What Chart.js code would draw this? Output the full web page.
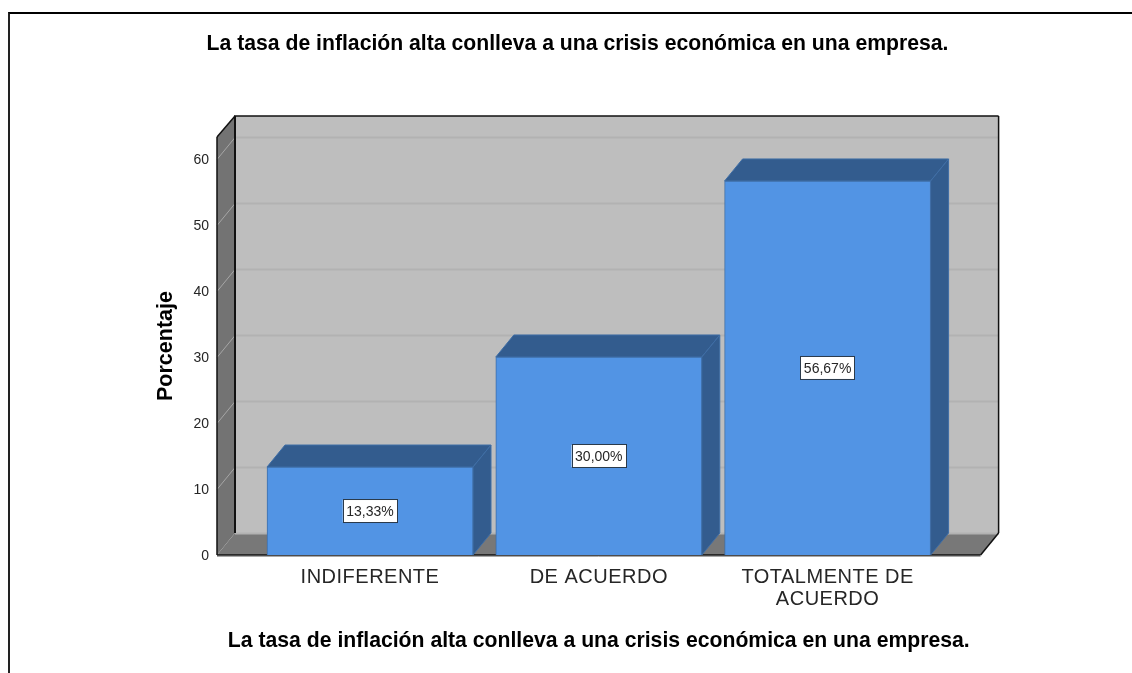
<!DOCTYPE html>
<html>
<head>
<meta charset="utf-8">
<script src="https://cdn.jsdelivr.net/npm/chart.js@4"></script>
<style>
    html, body { margin: 0; padding: 0; background: #fff; overflow: hidden; }
    #frame { position: absolute; left: 8px; top: 12px; width: 1124px; height: 661px; border-top: 2px solid #000; border-left: 2px solid #222; box-sizing: border-box; }
    #chart { position: absolute; left: 0; top: 0; }
</style>
</head>
<body>
<div id="frame"></div>
<canvas id="chart" width="1132" height="673"></canvas>
<script>
// Values
const categories = ['INDIFERENTE', 'DE ACUERDO', ['TOTALMENTE DE', 'ACUERDO']];
const percentages = [13.33, 30.00, 56.67];
const yTickValues = [0, 10, 20, 30, 40, 50, 60];
const yMax = 63.33;
const chartTitle = 'La tasa de inflación alta conlleva a una crisis económica en una empresa.';
const xAxisTitle = 'La tasa de inflación alta conlleva a una crisis económica en una empresa.';
const yAxisTitle = 'Porcentaje';

const COLORS = {
    bar: '#5294e4',
    barEdge: '#3f6ea6',
    barDark: '#335c8e',
    wall: '#bebebe',
    sideWall: '#737373',
    floor: '#787878',
    gridBack: '#b2b2b2',
    gridSide: '#a6a6a6',
    outline: '#111111',
    text: '#262626'
};

// 3D box look: how far the back plane sits from the front plane
const DEPTH_X = 18;
const DEPTH_Y = 22;
const SIDE_GAP = 38.6; // floor showing left/right of the category bands
const TITLE_OVERHANG = 60; // x title is wider than the plot, chart.js would squeeze it

function polygon(ctx, points, fill, stroke, lineWidth) {
    ctx.beginPath();
    points.forEach((p, i) => i ? ctx.lineTo(p[0], p[1]) : ctx.moveTo(p[0], p[1]));
    ctx.closePath();
    if (fill) {
        ctx.fillStyle = fill;
        ctx.fill();
    }
    if (stroke) {
        ctx.strokeStyle = stroke;
        ctx.lineWidth = lineWidth || 1;
        ctx.stroke();
    }
}

function line(ctx, x1, y1, x2, y2, color, width) {
    ctx.beginPath();
    ctx.moveTo(x1, y1);
    ctx.lineTo(x2, y2);
    ctx.strokeStyle = color;
    ctx.lineWidth = width;
    ctx.stroke();
}

/**
 * Draws walls, floor and grid behind the bars
 */
const boxPlugin = {
    id: 'box3d',
    beforeDraw(chart) {
        // the top title is centred a bit left of the plot in the reference
        chart.titleBlock.left = 150;
        chart.titleBlock.right = 1005;
    },
    beforeDatasetsDraw(chart) {
        const ctx = chart.ctx;
        const area = chart.chartArea;
        const yScale = chart.scales.y;
        const left = area.left - SIDE_GAP;
        const right = area.right + SIDE_GAP;
        const top = area.top;
        const bottom = area.bottom;
        const backTop = top - DEPTH_Y + 1;

        ctx.save();
        polygon(ctx, [[left + DEPTH_X, backTop], [right + DEPTH_X, backTop], [right + DEPTH_X, bottom - DEPTH_Y], [left + DEPTH_X, bottom - DEPTH_Y]], COLORS.wall);
        polygon(ctx, [[left, top], [left + DEPTH_X, backTop], [left + DEPTH_X, bottom - DEPTH_Y], [left, bottom]], COLORS.sideWall);
        polygon(ctx, [[left, bottom], [left + DEPTH_X, bottom - DEPTH_Y], [right + DEPTH_X, bottom - DEPTH_Y], [right, bottom]], COLORS.floor);

        yTickValues.forEach(v => {
            const y = Math.round(yScale.getPixelForValue(v)) + 0.5;
            if (v > 0) line(ctx, left, y, left + DEPTH_X, y - DEPTH_Y, COLORS.gridSide, 1);
            line(ctx, left + DEPTH_X, y - DEPTH_Y, right + DEPTH_X, y - DEPTH_Y, COLORS.gridBack, 2);
        });

        // outlines of the box
        line(ctx, left + DEPTH_X - 1, backTop, right + DEPTH_X, backTop, COLORS.outline, 1.5);
        line(ctx, left + DEPTH_X, backTop, left + DEPTH_X, bottom - DEPTH_Y, COLORS.outline, 2);
        line(ctx, right + DEPTH_X, backTop, right + DEPTH_X, bottom - DEPTH_Y, COLORS.outline, 1.5);
        line(ctx, left, top, left + DEPTH_X, backTop, COLORS.outline, 1.5);
        line(ctx, left, top, left, bottom, COLORS.outline, 1.5);
        line(ctx, left, bottom, right, bottom, COLORS.outline, 1.5);
        line(ctx, right, bottom, right + DEPTH_X, bottom - DEPTH_Y, COLORS.outline, 1.5);
        line(ctx, left, bottom + 1.5, right, bottom + 1.5, '#a8a8a8', 1);

        // top and side faces of the bars
        chart.getDatasetMeta(0).data.forEach(bar => {
            const x1 = bar.x - bar.width / 2;
            const x2 = bar.x + bar.width / 2;
            polygon(ctx, [[x1, bar.y], [x1 + DEPTH_X, bar.y - DEPTH_Y], [x2 + DEPTH_X, bar.y - DEPTH_Y], [x2, bar.y]], COLORS.barDark, COLORS.barEdge, 1);
            polygon(ctx, [[x2, bar.y], [x2 + DEPTH_X, bar.y - DEPTH_Y], [x2 + DEPTH_X, bar.base - DEPTH_Y], [x2, bar.base]], COLORS.barDark, COLORS.barEdge, 1);
        });
        ctx.restore();
    },
    afterDatasetsDraw(chart) {
        const ctx = chart.ctx;
        ctx.save();
        ctx.font = '14px "Liberation Sans"';
        ctx.textAlign = 'center';
        ctx.textBaseline = 'middle';
        chart.getDatasetMeta(0).data.forEach((bar, i) => {
            const label = percentages[i].toFixed(2).replace('.', ',') + '%';
            const cx = bar.x;
            const cy = (bar.y + bar.base) / 2;
            const w = ctx.measureText(label).width + 7;
            ctx.fillStyle = '#ffffff';
            ctx.fillRect(cx - w / 2, cy - 11, w, 22);
            ctx.strokeStyle = '#2b3a4a';
            ctx.lineWidth = 1;
            ctx.strokeRect(Math.round(cx - w / 2) + 0.5, cy - 11.5, Math.round(w), 23);
            ctx.fillStyle = COLORS.text;
            ctx.fillText(label, cx, cy + 1);
        });
        ctx.restore();
    }
};

const chart = new Chart(document.getElementById('chart').getContext('2d'), {
    type: 'bar',
    data: {
        labels: categories,
        datasets: [{
            data: percentages,
            backgroundColor: COLORS.bar,
            borderColor: COLORS.barEdge,
            borderWidth: 1,
            barThickness: 206
        }]
    },
    plugins: [boxPlugin],
    options: {
        responsive: false,
        animation: false,
        layout: {
            padding: { left: 153.6, right: 190, top: 31, bottom: 19 }
        },
        plugins: {
            legend: { display: false },
            tooltip: { enabled: false },
            title: {
                display: true,
                text: chartTitle,
                color: '#000',
                font: { family: '"Liberation Sans"', size: 21.2, weight: 'bold', lineHeight: 1.2 },
                padding: { top: 0, bottom: 80.56 }
            }
        },
        scales: {
            y: {
                min: 0,
                max: yMax,
                afterFit: scale => { scale.width = 102; },
                afterBuildTicks: scale => { scale.ticks = yTickValues.map(v => ({ value: v })); },
                grid: { display: false },
                border: { display: false },
                ticks: {
                    autoSkip: false,
                    padding: 38.6,
                    labelOffset: 1.5,
                    color: COLORS.text,
                    font: { family: '"Liberation Sans"', size: 14 }
                },
                title: {
                    display: true,
                    text: yAxisTitle,
                    color: '#000',
                    font: { family: '"Liberation Sans"', size: 21.5, weight: 'bold' },
                    padding: 0
                }
            },
            x: {
                afterFit: scale => { scale.height = 99; },
                grid: { display: false },
                border: { display: false },
                ticks: {
                    autoSkip: false,
                    maxRotation: 0,
                    padding: 3,
                    color: COLORS.text,
                    font: { family: '"Liberation Sans"', size: 20, lineHeight: 1.1 }
                },
                title: {
                    display: true,
                    text: xAxisTitle,
                    color: '#000',
                    font: { family: '"Liberation Sans"', size: 21.2, weight: 'bold' },
                    padding: 0
                }
            }
        }
    }
});

// Widen the x scale while its title draws, so it keeps its natural width
const xScale = chart.scales.x;
const drawXTitle = xScale.drawTitle;
xScale.drawTitle = function (...args) {
    this.left -= TITLE_OVERHANG;
    this.right += TITLE_OVERHANG;
    drawXTitle.apply(this, args);
    this.left += TITLE_OVERHANG;
    this.right -= TITLE_OVERHANG;
};

// The reference category labels run a little wider than Liberation Sans
const drawXLabels = xScale.drawLabels;
xScale.drawLabels = function (...args) {
    chart.ctx.letterSpacing = '0.5px';
    drawXLabels.apply(this, args);
    chart.ctx.letterSpacing = '0px';
};
chart.draw();
</script>
</body>
</html>
